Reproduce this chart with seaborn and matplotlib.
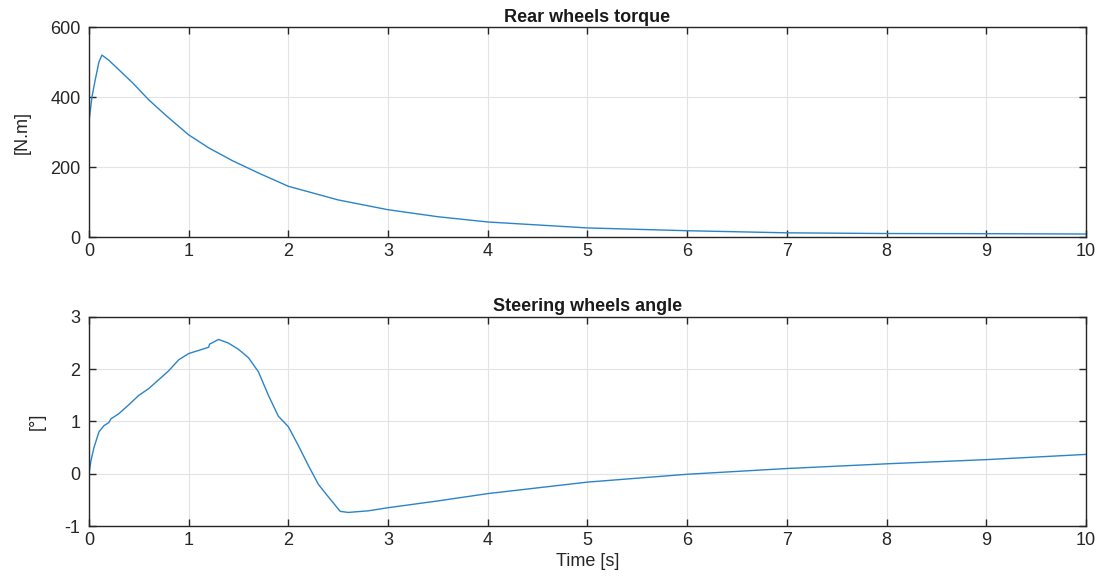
import matplotlib
matplotlib.use("Agg")
import pandas as pd
import seaborn as sns
import matplotlib.pyplot as plt

sns.set_style("whitegrid")
plt.rcParams['font.family'] = ['Liberation Sans', 'DejaVu Sans']
plt.rcParams['axes.unicode_minus'] = False

# rear wheels torque [N.m]
torque_t = [0, 0.03, 0.06, 0.1, 0.13, 0.2, 0.3, 0.44, 0.6, 0.77, 1.0, 1.2, 1.44, 1.7,
            2.0, 2.5, 3.0, 3.5, 4.0, 5.0, 6.0, 7.0, 8.0, 9.0, 10.0]
torque_v = [330, 400, 445, 500, 520, 505, 478, 440, 392, 348, 292, 255, 218, 183,
            145, 106, 78, 58, 43, 26, 18, 12, 10, 9.5, 8.6]

# steering wheels angle [deg]
angle_t = [0, 0.02, 0.05, 0.1, 0.15, 0.2, 0.22, 0.3, 0.4, 0.5, 0.6, 0.7, 0.8, 0.9,
           1.0, 1.1, 1.2, 1.21, 1.3, 1.4, 1.5, 1.6, 1.7, 1.8, 1.9, 2.0, 2.1, 2.2,
           2.3, 2.4, 2.52, 2.6, 2.8, 3.0, 3.5, 4.0, 4.5, 5.0, 6.0, 7.0, 8.0, 9.0, 10.0]
angle_v = [0.0, 0.25, 0.5, 0.8, 0.92, 0.98, 1.05, 1.15, 1.32, 1.5, 1.63, 1.8, 1.97, 2.18,
           2.3, 2.36, 2.42, 2.48, 2.57, 2.5, 2.38, 2.22, 1.95, 1.5, 1.1, 0.9, 0.54, 0.16,
           -0.2, -0.44, -0.72, -0.74, -0.71, -0.65, -0.52, -0.38, -0.27, -0.16, -0.01,
           0.1, 0.19, 0.27, 0.37]

torque = pd.DataFrame({"t": torque_t, "v": torque_v})
angle = pd.DataFrame({"t": angle_t, "v": angle_v})

line_color = "#2a84c8"
fig = plt.figure(figsize=(11.05, 5.76), dpi=100)
ax1 = fig.add_axes([0.0805, 0.5885, 0.9023, 0.3645])
ax2 = fig.add_axes([0.0805, 0.0868, 0.9023, 0.3629])


def style(ax, ylim, yticks, title, ylabel):
    ax.set_xlim(0, 10)
    ax.set_ylim(*ylim)
    ax.set_xticks(range(0, 11))
    ax.set_yticks(yticks)
    ax.set_title(title, fontsize=13, fontweight="bold", pad=4, color="#1a1a1a")
    ax.set_ylabel(ylabel, fontsize=13, color="#262626", labelpad=14)
    ax.set_xlabel("")
    ax.grid(True, color="#e3e3e3", linewidth=0.8)
    ax.tick_params(direction="in", length=5, width=1, labelsize=13, colors="#262626",
                   top=True, right=True, bottom=True, left=True)
    ax.tick_params(axis="x", pad=4)
    ax.tick_params(axis="y", pad=6)
    for s in ax.spines.values():
        s.set_color("#262626")
        s.set_linewidth(1)
        s.set_visible(True)


sns.lineplot(data=torque, x="t", y="v", ax=ax1, color=line_color, linewidth=1.0)
style(ax1, (0, 600), [0, 200, 400, 600], "Rear wheels torque", "[N.m]")

sns.lineplot(data=angle, x="t", y="v", ax=ax2, color=line_color, linewidth=1.0)
style(ax2, (-1, 3), [-1, 0, 1, 2, 3], "Steering wheels angle", "[°]")
ax2.set_xlabel("Time [s]", fontsize=13, color="#262626", labelpad=3)

fig.savefig("out.png", dpi=100, facecolor="white")
